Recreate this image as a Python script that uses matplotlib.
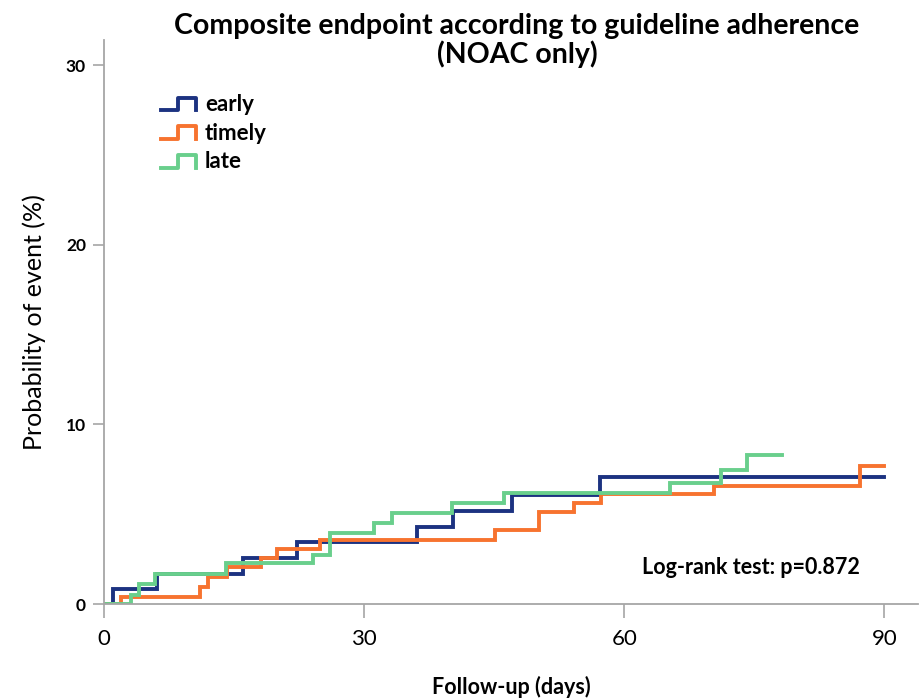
import matplotlib
matplotlib.use('Agg')
import matplotlib.pyplot as plt
from matplotlib.lines import Line2D
from matplotlib.legend_handler import HandlerBase

# ==========数据：累计事件概率（%）==========
early_days = [0, 1.0, 6.1, 16.0, 22.3, 36.1, 40.2, 47.1, 57.2, 90.0]
early_pct = [0, 0.83, 1.70, 2.55, 3.45, 4.30, 5.20, 6.05, 7.05, 7.05]

timely_days = [0, 2.0, 11.1, 12.0, 14.2, 18.1, 20.0, 24.9, 45.1, 50.2, 54.2, 57.3, 70.3, 87.2, 90.0]
timely_pct = [0, 0.40, 0.95, 1.50, 2.05, 2.55, 3.05, 3.55, 4.10, 5.10, 5.60, 6.10, 6.60, 7.70, 7.70]

late_days = [0, 3.1, 4.0, 5.9, 14.1, 24.1, 26.1, 31.1, 33.2, 40.1, 46.1, 65.3, 71.2, 74.2, 78.2]
late_pct = [0, 0.50, 1.12, 1.70, 2.27, 2.75, 3.94, 4.50, 5.05, 5.64, 6.20, 6.75, 7.45, 8.30, 8.30]

group_names = ["early", "timely", "late"]
group_colors = ["#1c3281", "#f7732f", "#69cf8c"]
x_ticks = [0, 30, 60, 90]
y_ticks = [0, 10, 20, 30]

plt.rcParams["font.family"] = ["Lato", "DejaVu Sans"]


# 图例里画成台阶形状
class HandlerStep(HandlerBase):
    def create_artists(self, legend, orig_handle, xdescent, ydescent,
                       width, height, fontsize, trans):
        x0 = -xdescent
        y0 = -ydescent
        xs = [x0, x0 + 0.5 * width, x0 + 0.5 * width, x0 + width, x0 + width]
        ys = [y0 + 0.05 * height, y0 + 0.05 * height, y0 + 0.85 * height,
              y0 + 0.85 * height, y0 + 0.05 * height]
        ln = Line2D(xs, ys, color=orig_handle.get_color(),
                    lw=orig_handle.get_linewidth(), transform=trans)
        return [ln]


fig = plt.figure(figsize=(9.23, 7.0), dpi=100)
ax = fig.add_axes([0.1127, 0.137, 0.882, 0.806])

lines = []
for d, p, c, n in zip([early_days, timely_days, late_days],
                      [early_pct, timely_pct, late_pct],
                      group_colors, group_names):
    ln, = ax.step(d, p, where="post", color=c, lw=2.8, label=n,
                  solid_joinstyle="miter")
    lines.append(ln)

ax.set_xlim(0, 93.9)
ax.set_ylim(0, 31.4)
ax.set_xticks(x_ticks)
ax.set_yticks(y_ticks)
ax.tick_params(axis="x", colors="#a6a6a6", length=10, width=1.2, labelsize=16,
               labelcolor="black", pad=8)
ax.tick_params(axis="y", colors="#a6a6a6", length=8, width=1.2, labelsize=12.5,
               labelcolor="black", pad=5)
for lab in ax.get_yticklabels():
    lab.set_fontweight("bold")

for s in ["top", "right"]:
    ax.spines[s].set_visible(False)
for s in ["left", "bottom"]:
    ax.spines[s].set_color("#a6a6a6")
    ax.spines[s].set_linewidth(1.3)

ax.set_ylabel("Probability of event (%)", fontsize=18, labelpad=14)
ax.set_xlabel("Follow-up (days)", fontsize=15.5, fontweight="bold", labelpad=19)

fig.text(0.56, 0.942, "Composite endpoint according to guideline adherence\n(NOAC only)",
         ha="center", va="center", fontsize=20.5, fontweight="bold", linespacing=1.05)

ax.text(74.6, 2.06, "Log-rank test: p=0.872", ha="center", va="center",
        fontsize=15.5, fontweight="bold")

leg = ax.legend(handles=lines, loc="upper left",
                bbox_to_anchor=(0.045, 0.94), frameon=False,
                handler_map={Line2D: HandlerStep()},
                prop={"weight": "bold", "size": 16},
                handlelength=1.6, handletextpad=0.4, labelspacing=0.35)

plt.savefig("out.png", dpi=100)
plt.close()
